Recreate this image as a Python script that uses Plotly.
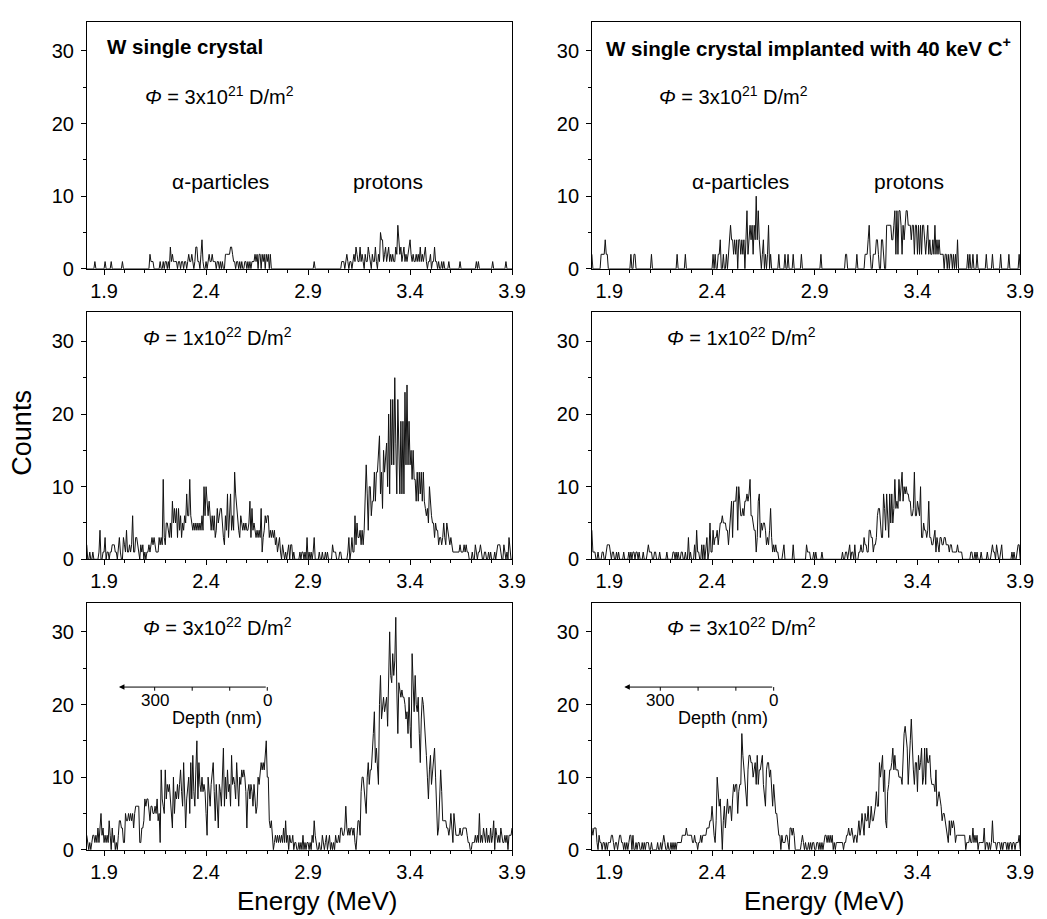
import plotly.graph_objects as go

# ---------------- data ----------------
E_START = 1.815      # MeV, first channel
E_STEP = 0.005       # MeV per channel

# W single crystal, fluence 3e21 D/m2
counts_wsc_3e21 = [
    0,0,0,0,0,0,0,0,1,0,  0,0,0,0,0,0,0,0,1,0,  0,0,0,0,1,0,0,0,0,0,  0,0,0,0,0,1,0,0,0,0,
    0,0,0,0,0,0,0,0,0,0,  0,0,0,0,0,0,0,0,0,0,  0,0,2,1,1,1,0,0,0,0,  0,0,1,0,0,1,0,1,1,0,
    1,0,3,1,2,1,1,1,1,0,  1,1,0,1,1,0,1,1,0,1,  2,1,1,2,1,0,1,3,3,1,  1,0,2,4,1,0,0,1,0,1,
    2,1,1,2,1,1,1,0,1,1,  0,1,0,1,0,0,2,2,2,2,  2,3,3,2,1,1,0,1,1,0,  1,0,1,0,0,1,1,0,1,0,
    1,0,1,1,1,2,1,2,0,2,  2,0,2,1,2,0,2,1,2,0,  2,0,0,0,0,0,0,0,0,0,  0,0,0,0,0,0,0,0,0,0,
    0,0,0,0,0,0,0,0,0,0,  0,0,0,0,0,0,0,0,0,0,  0,0,0,1,0,0,0,0,0,0,  0,0,0,0,0,0,0,0,0,0,
    0,0,0,0,0,0,0,0,0,0,  1,1,1,0,1,2,1,0,1,1,  0,1,2,1,3,2,1,1,3,1,  2,1,0,2,1,1,3,2,1,0,
    2,1,1,3,1,0,2,1,5,4,  4,1,2,3,1,2,3,1,2,1,  2,1,1,3,2,6,3,2,3,1,  2,3,1,2,1,2,3,4,2,1,
    2,1,1,2,1,2,1,3,1,2,  1,2,3,1,0,1,1,2,0,1,  1,3,1,1,0,1,0,0,1,0,  1,0,0,0,0,1,0,0,0,0,
    0,0,0,0,0,0,1,0,0,0,  0,0,0,0,0,0,0,0,0,0,  0,0,1,0,1,0,0,0,0,0,  0,0,0,0,0,0,0,0,1,0,
    0,0,0,0,0,0,0,0,0,0,  0,1,0,0,0,0,0,0,
]

# W single crystal implanted with 40 keV C+, fluence 3e21 D/m2
counts_wsc_c_3e21 = [
    2,0,0,0,0,0,0,0,0,2,  2,2,2,4,2,2,0,0,0,0,  0,0,0,0,0,0,0,0,0,0,  0,0,0,0,0,0,0,0,2,0,
    0,2,2,0,0,0,0,0,0,0,  0,0,0,0,0,0,0,0,2,0,  0,0,0,0,0,0,0,0,0,0,  0,0,0,0,0,0,0,0,0,0,
    0,0,0,2,0,0,0,0,0,0,  0,2,0,0,0,0,0,0,0,0,  0,0,0,0,0,0,0,0,0,0,  0,0,0,0,0,0,0,0,2,0,
    2,0,0,2,2,4,0,0,2,0,  0,2,0,2,4,6,4,4,2,4,  2,4,0,4,4,2,4,2,4,0,  4,8,2,4,6,4,6,2,6,4,
    10,4,8,4,2,0,2,4,0,2, 0,2,6,0,2,0,0,0,0,0,  0,0,2,0,0,0,0,0,2,0,  0,2,0,0,0,0,2,0,0,0,
    0,0,0,0,2,0,0,0,0,0,  0,0,0,0,0,0,0,0,0,0,  0,0,0,2,0,0,0,0,0,0,  0,0,0,0,0,0,0,0,0,0,
    0,0,0,0,0,0,0,2,2,0,  0,0,0,0,0,0,0,0,2,0,  0,0,0,0,0,0,2,2,2,4,  6,2,0,0,2,2,2,4,4,2,
    0,0,4,4,2,0,0,6,6,6,  6,6,4,4,6,8,2,8,2,8,  8,6,2,6,4,6,8,8,6,6,  6,4,6,6,2,6,6,2,6,2,
    6,2,6,6,4,2,4,6,2,4,  2,2,4,2,6,2,4,2,4,2,  2,2,2,0,2,2,0,2,0,2,  2,0,2,0,2,0,4,0,0,0,
    0,0,0,0,0,0,2,0,2,0,  0,2,0,0,0,2,0,0,0,0,  0,0,0,0,2,0,0,0,0,0,  2,0,0,0,0,0,0,0,2,0,
    0,0,0,0,0,0,2,0,0,0,  0,0,0,0,0,0,2,0,
]

# W single crystal, fluence 1e22 D/m2
counts_wsc_1e22 = [
    2,0,0,1,0,0,1,0,0,0,  0,0,1,4,0,0,1,1,3,0,  1,1,0,1,1,2,2,2,1,1,  0,2,3,1,0,0,3,2,1,4,
    1,1,2,1,2,6,1,1,3,3,  2,1,0,2,1,2,0,1,0,1,  1,2,1,2,3,2,3,2,1,1,  1,3,2,3,2,11,3,2,5,5,
    4,3,5,3,8,5,7,5,7,3,  7,4,6,3,5,4,6,5,9,6,  6,11,6,5,4,5,4,5,4,5, 4,5,4,6,4,10,6,10,7,6,
    8,5,4,6,4,6,3,4,7,5,  6,7,7,4,3,2,6,4,9,3,  6,9,4,6,4,12,9,7,6,4, 3,6,5,4,5,4,5,4,4,5,
    8,3,7,4,5,4,3,4,3,4,  3,7,1,3,4,6,5,6,6,3,  4,3,4,3,4,2,3,1,2,3,  1,0,2,1,0,1,0,1,2,0,
    2,2,0,1,0,0,0,0,0,1,  0,1,1,0,1,0,3,0,1,0,  1,0,1,3,0,0,0,0,1,0,  0,1,0,0,1,0,1,0,0,0,
    0,2,1,1,1,0,0,0,1,1,  0,0,0,0,0,0,1,3,0,1,  3,1,1,6,2,5,3,3,4,2,  4,2,4,8,13,9,4,10,10,6,
    8,8,12,8,12,12,15,17,9,12,  7,15,12,15,16,10,20,9,22,13,
    22,13,25,16,9,22,14,9,19,9,  19,9,23,13,24,13,19,13,15,11,
    15,11,11,8,12,8,12,9,12,8,  12,8,7,6,7,5,10,7,6,5,  5,3,5,4,4,2,3,3,2,3,  5,3,2,5,4,3,2,3,2,1,
    1,1,1,1,1,1,2,1,1,1,  2,1,2,1,1,0,0,0,1,0,  0,2,1,0,1,1,2,1,0,0,  1,1,0,0,1,0,1,0,0,0,
    1,0,1,2,2,2,1,0,0,2,  1,0,1,0,3,1,0,0,
]

# W single crystal implanted with 40 keV C+, fluence 1e22 D/m2
counts_wsc_c_1e22 = [
    4,1,1,1,0,0,1,0,0,0,  1,1,0,0,1,2,2,2,1,0,  1,1,0,0,1,0,1,0,0,0,  0,1,0,0,0,0,1,0,1,0,
    1,1,0,1,1,0,1,0,0,0,  1,0,0,0,1,2,1,1,1,0,  0,1,1,0,0,0,1,0,0,0,  0,0,0,1,0,0,0,0,0,1,
    1,0,1,0,1,0,0,1,1,0,  0,1,0,0,3,0,1,0,0,0,  2,0,4,1,1,0,0,2,0,2,  0,2,3,0,1,5,1,1,4,2,
    3,3,4,2,4,5,5,6,5,5,  5,4,4,2,4,7,8,3,8,8,  8,10,4,10,8,6,6,7,6,8, 8,9,8,9,11,6,6,5,4,4,
    1,3,8,9,3,5,4,5,5,4,  2,3,2,4,7,3,1,2,1,2,  1,1,0,0,0,0,1,2,0,0,  0,0,0,0,0,0,2,0,0,0,
    0,0,0,0,0,0,0,0,0,2,  1,1,1,0,0,0,1,0,1,0,  0,0,0,0,1,0,0,0,0,0,  0,0,0,0,0,0,0,0,0,0,
    0,0,0,0,1,0,0,1,1,0,  1,2,0,1,1,0,2,0,0,0,  1,1,2,1,1,3,2,2,1,1,  4,4,3,3,1,2,2,3,6,7,
    7,4,3,3,9,7,4,9,5,3,  9,5,9,5,7,11,7,8,7,11, 8,11,12,8,10,9,10,9,9,8, 8,6,6,7,12,6,6,8,7,6,
    10,3,3,5,4,4,3,4,8,3, 3,2,2,3,4,1,3,2,1,3,  3,2,2,3,3,2,2,2,1,2,  2,1,1,1,1,1,2,1,1,1,
    1,0,0,0,0,0,0,0,0,1,  1,0,0,1,0,1,0,0,0,1,  0,0,0,0,0,1,0,0,0,1,  2,1,1,0,2,1,0,0,1,2,
    0,0,0,0,0,0,0,0,0,1,  0,1,0,0,1,2,2,0,
]

# W single crystal, fluence 3e22 D/m2
counts_wsc_3e22 = [
    2,1,0,1,0,1,2,2,1,2,  1,3,1,3,5,2,3,1,2,1,  2,1,4,2,0,3,1,2,0,1,  0,2,4,4,3,3,1,1,5,4,
    4,5,4,5,4,5,3,5,6,6,  6,6,1,1,3,3,4,7,6,7,  7,5,4,6,6,5,5,6,5,7,  4,5,1,11,7,6,5,11,7,9,
    8,9,7,6,3,10,5,8,7,9, 7,9,11,8,6,12,5,3,7,9, 10,5,12,7,13,8,6,11,15,7, 12,9,8,10,8,9,8,5,2,10,
    8,6,9,11,12,8,4,9,6,3, 9,8,6,9,14,6,10,7,11,8, 9,6,13,9,10,9,7,12,8,6, 10,9,11,10,11,10,8,3,8,9,
    7,9,8,6,9,7,5,6,10,9, 11,12,11,12,11,13,15,10,10,4, 3,4,1,0,1,2,1,2,1,2, 1,2,1,3,1,4,1,2,0,2,
    1,1,2,0,1,1,0,0,1,0,  1,0,2,0,1,0,1,1,0,1,  0,2,1,4,2,1,0,0,1,0,  0,2,1,0,1,2,0,1,2,0,
    1,0,1,0,2,1,1,2,1,3,  3,2,2,3,6,3,2,3,2,3,  3,2,3,1,0,2,4,4,2,8,  10,10,8,6,5,10,12,9,11,11,
    13,16,19,12,14,11,9,20,24,18,  20,21,19,20,21,17,25,30,24,23,
    27,24,26,32,22,16,23,22,21,22,  21,21,20,18,19,16,21,17,14,27,
    22,19,24,20,19,21,16,12,18,21,  20,18,16,13,10,7,11,13,9,11,
    13,14,10,7,2,3,7,11,8,4,  4,4,4,3,3,2,3,5,2,1,  5,3,2,2,2,2,3,2,2,3,  3,3,3,2,1,1,0,0,1,1,
    1,2,1,2,1,5,1,2,1,3,  2,1,3,1,2,1,3,1,2,4,  0,3,2,1,2,1,3,2,1,1,  2,1,2,0,2,2,2,3,
]

# W single crystal implanted with 40 keV C+, fluence 3e22 D/m2
counts_wsc_c_3e22 = [
    3,2,3,3,3,1,0,2,1,1,  0,1,1,0,1,0,1,1,1,2,  2,1,0,1,1,0,1,2,2,1,  1,0,1,0,1,0,1,2,2,0,
    2,0,0,1,0,1,1,0,0,1,  0,1,0,1,1,1,0,0,1,0,  0,0,0,0,1,0,0,1,0,1,  2,1,0,0,1,0,0,1,0,1,
    0,1,0,1,1,1,1,1,2,2,  2,2,3,2,2,2,2,2,1,1,  2,1,1,0,1,1,2,1,2,2,  2,2,3,3,3,4,4,6,3,2,
    1,4,10,7,6,7,3,0,4,6, 3,5,7,5,6,6,4,7,9,8,  9,9,5,8,9,9,16,13,11,9, 7,6,11,13,13,12,12,10,11,12,
    9,13,9,11,11,12,13,9,7,6, 11,12,12,10,11,9,6,9,7,5, 5,3,2,2,0,2,1,1,1,2, 2,1,0,3,3,2,3,2,0,0,
    0,0,0,0,1,2,1,0,1,0,  0,1,0,1,0,1,1,0,0,1,  1,0,1,0,1,0,1,2,2,1,  2,1,2,1,2,0,1,0,1,1,
    1,1,1,1,1,0,1,1,2,2,  3,2,2,3,2,1,2,2,1,3,  4,2,3,5,3,2,5,4,4,6,  3,4,6,4,4,5,6,8,6,6,
    12,10,12,13,8,11,4,3,8,9,  11,11,12,14,11,13,11,11,11,10,
    10,10,9,13,16,17,15,14,9,13,  15,18,13,11,9,12,12,8,13,11,
    12,14,9,10,14,9,14,12,12,13,  10,9,9,9,8,11,6,7,8,7,
    6,4,5,5,4,3,2,1,4,2,  4,3,4,3,1,2,2,2,2,2,  2,2,2,2,0,1,1,1,2,1,  1,3,1,2,1,2,0,1,1,1,
    1,1,3,0,1,1,0,1,0,1,  4,1,1,1,0,1,1,1,0,1,  0,1,1,1,0,1,0,1,1,0,  1,1,0,1,1,1,2,0,
]

fluence_labels = ["3x10<sup>21</sup>", "1x10<sup>22</sup>", "3x10<sup>22</sup>"]
panel_titles = ["W single crystal", "W single crystal implanted with 40 keV C<sup>+</sup>"]
x_tick_vals = [1.9, 2.4, 2.9, 3.4, 3.9]
y_tick_vals = [0, 10, 20, 30]
depth_ticks_nm = [0, 100, 200, 300]
depth_tick_labels = {0: "0", 300: "300"}
DEPTH_E_SURFACE = 2.70      # MeV at depth 0 (from inset scale)
DEPTH_MEV_PER_NM = 0.00184  # inset scale

# panels: (row, col) -> counts
panels = [
    (0, 0, counts_wsc_3e21), (0, 1, counts_wsc_c_3e21),
    (1, 0, counts_wsc_1e22), (1, 1, counts_wsc_c_1e22),
    (2, 0, counts_wsc_3e22), (2, 1, counts_wsc_c_3e22),
]

# ---------------- figure ----------------
W, H = 1047, 919
FONT = "Liberation Sans, Arial, Helvetica, sans-serif"
LINE = "#111111"

x_dom = [[80 / W, 511 / W], [592 / W, 1026 / W]]
y_dom = [[1 - 264 / H, 1 - 14 / H], [1 - 558 / H, 1 - 308 / H], [1 - 852 / H, 1 - 602 / H]]

fig = go.Figure()
layout = dict(width=W, height=H, margin=dict(l=0, r=0, t=0, b=0),
              paper_bgcolor="white", plot_bgcolor="white", showlegend=False,
              font=dict(family=FONT, color="black"))

annotations = []
shapes = []

for row, col, counts in panels:
    k = row * 2 + col + 1
    xa = "x" if k == 1 else f"x{k}"
    ya = "y" if k == 1 else f"y{k}"
    energies = [E_START + E_STEP * i for i in range(len(counts))]
    fig.add_trace(go.Scatter(x=energies, y=counts, mode="lines",
                             line=dict(color=LINE, width=1),
                             xaxis=xa, yaxis=ya, hoverinfo="skip"))
    common = dict(showline=True, linecolor="black", linewidth=1, mirror=True,
                  ticks="outside", ticklen=5, tickwidth=1, tickcolor="black",
                  showgrid=False, zeroline=False,
                  tickfont=dict(family=FONT, size=20, color="black"))
    layout[f"xaxis{k if k > 1 else ''}"] = dict(
        common, domain=x_dom[col], anchor=ya, range=[1.816, 3.9005],
        tickmode="array", tickvals=x_tick_vals, ticktext=[f"{v:.1f}" for v in x_tick_vals],
        ticklabelstandoff=-1,
        minor=dict(tickmode="linear", tick0=1.9, dtick=0.1, ticks="outside",
                   ticklen=3, tickcolor="black", tickwidth=1))
    layout[f"yaxis{k if k > 1 else ''}"] = dict(
        common, domain=y_dom[row], anchor=xa, range=[0, 34],
        tickmode="array", tickvals=y_tick_vals, ticklabelstandoff=3,
        minor=dict(tickmode="linear", tick0=0, dtick=5, ticks="outside",
                   ticklen=3, tickcolor="black", tickwidth=1))

    # fluence label
    if row == 0:
        fx, fy = (2.09, 23.8) if col == 0 else (2.13, 23.8)
    else:
        fx, fy = (2.08, 30.7) if col == 0 else (2.17, 30.7)
    annotations.append(dict(x=fx, y=fy, xref=xa, yref=ya, xanchor="left", yanchor="middle",
                            text=f"<i>Φ</i> = {fluence_labels[row]} D/m<sup>2</sup>",
                            showarrow=False, font=dict(family=FONT, size=20)))
    if row == 0:
        tx = 1.905 if col == 0 else 1.872
        annotations.append(dict(x=tx, y=30.6, xref=xa, yref=ya, xanchor="left", yanchor="middle",
                                text=f"<b>{panel_titles[col]}</b>", showarrow=False,
                                font=dict(family=FONT, size=20.5)))
        ax_, px_ = (2.47, 3.29) if col == 0 else (2.54, 3.36)
        annotations.append(dict(x=ax_, y=12.0, xref=xa, yref=ya, text="α-particles",
                                showarrow=False, font=dict(family=FONT, size=21)))
        annotations.append(dict(x=px_, y=12.0, xref=xa, yref=ya, text="protons",
                                showarrow=False, font=dict(family=FONT, size=21)))
    if row == 2:
        y_arrow = 22.4
        e_deep = DEPTH_E_SURFACE - DEPTH_MEV_PER_NM * max(depth_ticks_nm)
        annotations.append(dict(x=e_deep - 0.175, y=y_arrow, ax=DEPTH_E_SURFACE, ay=y_arrow,
                                xref=xa, yref=ya, axref=xa, ayref=ya, text="",
                                showarrow=True, arrowhead=2, arrowsize=1.1, arrowwidth=1,
                                arrowcolor="black"))
        for d in depth_ticks_nm:
            e = DEPTH_E_SURFACE - DEPTH_MEV_PER_NM * d
            shapes.append(dict(type="line", xref=xa, yref=ya, x0=e, x1=e,
                               y0=y_arrow, y1=y_arrow - 0.5,
                               line=dict(color="black", width=1)))
            if d in depth_tick_labels:
                annotations.append(dict(x=e, y=20.6, xref=xa, yref=ya,
                                        text=depth_tick_labels[d], showarrow=False,
                                        font=dict(family=FONT, size=17)))
        annotations.append(dict(x=2.455, y=18.2, xref=xa, yref=ya, text="Depth (nm)",
                                showarrow=False, font=dict(family=FONT, size=18)))

# axis titles
annotations.append(dict(x=14 / W, y=1 - 430 / H, xref="paper", yref="paper", text="Counts",
                        xanchor="center", yanchor="middle",
                        textangle=-90, showarrow=False, font=dict(family=FONT, size=27)))
for cx in (313, 827):
    annotations.append(dict(x=cx / W, y=1 - 904 / H, xref="paper", yref="paper",
                            xanchor="center", yanchor="middle",
                            text="Energy (MeV)", showarrow=False,
                            font=dict(family=FONT, size=26)))

layout["annotations"] = annotations
layout["shapes"] = shapes
fig.update_layout(**layout)
fig.write_html("out.html")
